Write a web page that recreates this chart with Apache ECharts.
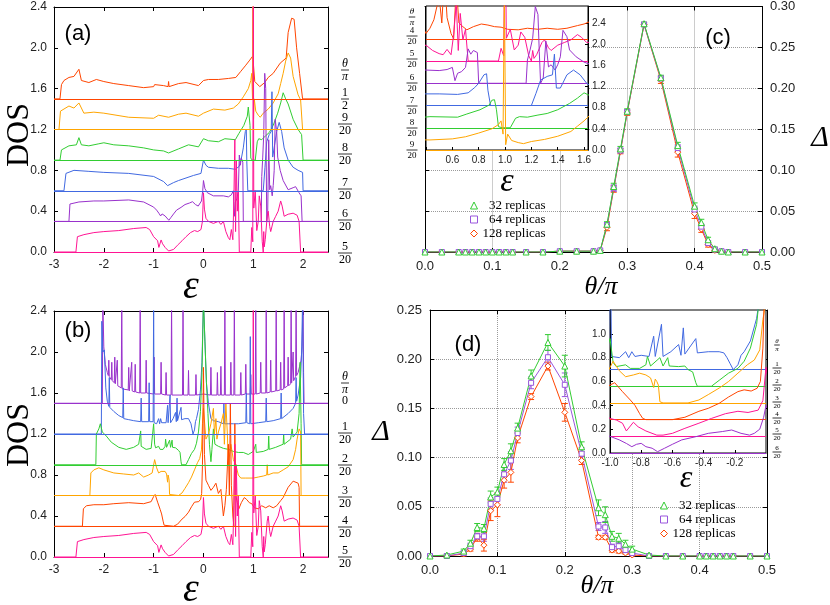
<!DOCTYPE html>
<html>
<head>
<meta charset="utf-8">
<script src="https://cdn.jsdelivr.net/npm/echarts@6/dist/echarts.min.js"></script>
<style>
  html, body { margin: 0; padding: 0; background: #fff; }
  #chart { width: 830px; height: 605px; }
</style>
</head>
<body>
<div id="chart"></div>
<script>
// density of states, raw values (no vertical offset), theta/pi = k/20
const dos00 = [[-3,0],[-2.03,0],[-2.02,1.0],[-2.0,0.55],[-1.97,0.38],[-1.93,0.3],[-1.91,0.27],[-1.9,0.42],[-1.89,0.26],[-1.85,0.23],[-1.84,0.4],[-1.83,0.22],[-1.79,0.2],[-1.78,0.45],[-1.77,0.19],[-1.74,0.18],[-1.73,0.42],[-1.72,0.17],[-1.65,0.15],[-1.64,1.0],[-1.63,0.14],[-1.51,0.13],[-1.5,0.35],[-1.49,0.12],[-1.45,0.12],[-1.44,0.4],[-1.43,0.12],[-1.38,0.11],[-1.37,0.38],[-1.36,0.11],[-1.28,0.1],[-1.27,1.0],[-1.26,0.1],[-1.16,0.1],[-1.15,0.42],[-1.14,0.1],[-1.0,0.09],[-0.99,0.45],[-0.98,0.09],[-0.86,0.09],[-0.85,0.4],[-0.84,0.09],[-0.76,0.08],[-0.75,0.3],[-0.74,0.08],[-0.65,0.08],[-0.64,1.0],[-0.63,0.08],[-0.42,0.08],[-0.41,1.0],[-0.4,0.08],[-0.31,0.08],[-0.3,0.32],[-0.29,0.08],[-0.16,0.08],[-0.15,0.28],[-0.14,0.08],[0.0,0.09],[0.14,0.08],[0.15,0.35],[0.16,0.08],[0.27,0.08],[0.28,0.3],[0.29,0.08],[0.34,0.08],[0.35,0.36],[0.36,0.08],[0.42,0.08],[0.43,1.0],[0.44,0.08],[0.54,0.08],[0.55,0.4],[0.56,0.08],[0.61,0.08],[0.62,1.0],[0.63,0.08],[0.74,0.08],[0.75,0.3],[0.76,0.08],[0.84,0.09],[0.85,0.38],[0.86,0.09],[0.94,0.09],[0.95,0.28],[0.96,0.09],[1.04,0.09],[1.05,1.0],[1.06,0.09],[1.14,0.1],[1.15,0.4],[1.16,0.1],[1.25,0.1],[1.26,1.0],[1.27,0.1],[1.34,0.11],[1.35,0.42],[1.36,0.11],[1.45,0.12],[1.46,1.0],[1.47,0.12],[1.54,0.13],[1.55,0.4],[1.56,0.13],[1.61,0.14],[1.62,1.0],[1.63,0.15],[1.69,0.17],[1.7,0.45],[1.71,0.17],[1.75,0.19],[1.76,1.0],[1.77,0.2],[1.79,0.21],[1.8,0.5],[1.81,0.22],[1.85,0.26],[1.86,1.0],[1.87,0.27],[1.9,0.3],[1.93,0.36],[1.96,0.42],[1.98,0.55],[2.0,1.0],[2.01,0.3],[2.02,0],[2.5,0]];
const dos01 = [[-3,0],[-2.05,0],[-2.04,1.1],[-2.02,0.8],[-1.99,0.82],[-1.96,0.45],[-1.93,0.32],[-1.9,0.27],[-1.89,0.55],[-1.88,0.26],[-1.8,0.22],[-1.7,0.18],[-1.62,0.16],[-1.61,0.45],[-1.6,0.15],[-1.5,0.14],[-1.4,0.13],[-1.26,0.12],[-1.25,0.35],[-1.24,0.12],[-1.1,0.12],[-1.09,0.5],[-1.08,0.12],[-1.01,0.12],[-1.0,1.3],[-0.99,0.11],[-0.94,0.1],[-0.9,0.15],[-0.88,0.1],[-0.86,0.15],[-0.84,0.11],[-0.8,0.12],[-0.75,0.11],[-0.72,0.28],[-0.71,0.11],[-0.67,0.38],[-0.66,0.11],[-0.61,0.15],[-0.56,0.21],[-0.545,0.12],[-0.53,0.35],[-0.52,0.13],[-0.45,0.26],[-0.44,0.14],[-0.37,0.15],[-0.3,0.15],[-0.27,0.14],[-0.25,0.1],[-0.23,0.05],[-0.21,0.0],[-0.18,0.04],[-0.16,0.12],[-0.14,0.15],[-0.1,0.24],[-0.06,0.43],[-0.03,0.7],[0.0,1.3],[0.03,1.3],[0.06,0.5],[0.1,0.3],[0.15,0.15],[0.2,0.13],[0.3,0.12],[0.4,0.1],[0.41,0.3],[0.42,0.1],[0.5,0.1],[0.6,0.1],[0.7,0.1],[0.85,0.11],[0.86,0.4],[0.87,0.11],[0.93,0.1],[0.94,0.95],[0.95,0.1],[1.1,0.11],[1.25,0.12],[1.26,0.35],[1.27,0.12],[1.4,0.13],[1.55,0.15],[1.56,0.4],[1.57,0.15],[1.7,0.2],[1.8,0.25],[1.85,0.3],[1.86,0.55],[1.87,0.32],[1.9,0.38],[1.95,0.55],[1.97,0.8],[1.99,1.3],[2.01,0.2],[2.03,0],[2.5,0]];
const dos02 = [[-3,0],[-2.16,0],[-2.15,0.3],[-2.1,0.35],[-2.07,0.4],[-2.03,0.32],[-1.95,0.28],[-1.85,0.22],[-1.7,0.17],[-1.55,0.15],[-1.4,0.17],[-1.3,0.2],[-1.26,0.33],[-1.25,0.18],[-1.15,0.15],[-1.05,0.16],[-1.0,0.4],[-0.98,0.2],[-0.96,0.165],[-0.9,0.18],[-0.87,0.15],[-0.81,0.15],[-0.77,0.18],[-0.76,0.25],[-0.74,0.17],[-0.68,0.24],[-0.66,0.17],[-0.63,0.24],[-0.62,0.17],[-0.56,0.165],[-0.52,0.17],[-0.5,0.14],[-0.47,0.12],[-0.45,0.03],[-0.44,0],[-0.35,0],[-0.3,0.05],[-0.24,0.11],[-0.18,0.15],[-0.14,0.21],[-0.1,0.32],[-0.06,0.52],[-0.03,0.9],[0.0,1.6],[0.03,1.2],[0.06,0.8],[0.09,0.5],[0.12,0.2],[0.15,0.03],[0.17,0.15],[0.2,0.35],[0.23,0.2],[0.3,0.18],[0.4,0.16],[0.5,0.15],[0.6,0.13],[0.7,0.12],[0.8,0.12],[0.9,0.1],[1.0,0.13],[1.05,0.2],[1.06,0.12],[1.2,0.13],[1.3,0.15],[1.31,0.28],[1.32,0.15],[1.45,0.17],[1.6,0.2],[1.61,0.3],[1.62,0.2],[1.75,0.25],[1.78,0.35],[1.8,0.27],[1.88,0.32],[1.92,0.5],[1.94,1.0],[1.96,0.4],[1.97,0],[2.5,0]];
const dos03 = [[-3,0],[-2.28,0],[-2.26,0.22],[-2.2,0.25],[-2.1,0.27],[-2.0,0.25],[-1.8,0.22],[-1.6,0.21],[-1.4,0.2],[-1.3,0.22],[-1.2,0.18],[-1.1,0.2],[-1.03,0.22],[-0.98,0.35],[-0.94,0.27],[-0.9,0.22],[-0.85,0.235],[-0.81,0.25],[-0.77,0.235],[-0.74,0.21],[-0.72,0.13],[-0.71,0.2],[-0.7,0.18],[-0.69,0.15],[-0.68,0.01],[-0.66,0],[-0.5,0],[-0.43,0.025],[-0.37,0.07],[-0.3,0.125],[-0.24,0.18],[-0.18,0.25],[-0.12,0.32],[-0.075,0.36],[-0.04,0.445],[-0.02,0.7],[0.0,0.85],[0.05,0.55],[0.1,0.6],[0.15,0.7],[0.2,0.85],[0.22,0.6],[0.25,0.75],[0.27,0.55],[0.3,0.62],[0.35,0.7],[0.4,0.8],[0.42,0.5],[0.45,0.9],[0.48,0.6],[0.5,0.3],[0.55,0.5],[0.6,0.35],[0.65,0.3],[0.7,0.2],[0.75,0.17],[0.85,0.17],[1.0,0.17],[1.1,0.18],[1.2,0.19],[1.27,0.2],[1.28,0.3],[1.29,0.2],[1.4,0.22],[1.5,0.22],[1.6,0.25],[1.7,0.28],[1.8,0.35],[1.85,0.45],[1.88,0.55],[1.92,0.65],[1.95,0.62],[1.96,0],[2.5,0]];
const dos04 = [[-3,0],[-2.43,0],[-2.41,0.17],[-2.35,0.2],[-2.2,0.21],[-2.0,0.21],[-1.8,0.22],[-1.5,0.23],[-1.2,0.22],[-1.05,0.24],[-1.0,0.29],[-0.97,0.31],[-0.92,0.235],[-0.87,0.165],[-0.84,0.12],[-0.81,0.05],[-0.79,0.01],[-0.77,0],[-0.6,0],[-0.52,0.02],[-0.43,0.07],[-0.37,0.095],[-0.3,0.137],[-0.24,0.19],[-0.18,0.235],[-0.14,0.25],[-0.095,0.24],[-0.057,0.263],[-0.036,0.32],[-0.02,0.6],[0.0,1.55],[0.02,0.7],[0.05,0.45],[0.1,0.4],[0.15,0.35],[0.2,0.38],[0.25,0.42],[0.3,0.32],[0.35,0.36],[0.4,0.1],[0.43,0.2],[0.46,0.36],[0.5,0.8],[0.52,0.3],[0.54,1.2],[0.56,0.4],[0.59,0.1],[0.61,0.0],[0.63,1.0],[0.65,0.3],[0.68,0.23],[0.71,0.17],[0.76,0.23],[0.82,0.28],[0.87,0.26],[0.92,0.23],[0.97,0.22],[1.02,0.18],[1.1,0.17],[1.17,0.2],[1.25,0.18],[1.32,0.2],[1.4,0.18],[1.47,0.2],[1.55,0.25],[1.6,0.28],[1.7,0.38],[1.8,0.44],[1.9,0.42],[1.92,0.38],[1.93,0],[2.5,0]];
const dos05 = [[-3,0],[-2.56,0],[-2.53,0.15],[-2.4,0.17],[-2.2,0.19],[-2.0,0.2],[-1.7,0.21],[-1.4,0.23],[-1.15,0.24],[-1.08,0.22],[-1.0,0.15],[-0.96,0.137],[-0.92,0.11],[-0.895,0.045],[-0.885,0.04],[-0.85,0.118],[-0.82,0.08],[-0.77,0.045],[-0.7,0.01],[-0.66,0.01],[-0.6,0.025],[-0.52,0.067],[-0.43,0.11],[-0.35,0.15],[-0.26,0.19],[-0.18,0.21],[-0.115,0.2],[-0.05,0.22],[-0.02,0.3],[0.0,0.58],[0.02,0.42],[0.05,0.33],[0.1,0.3],[0.2,0.28],[0.3,0.3],[0.35,0.27],[0.4,0.3],[0.45,0.2],[0.5,0.14],[0.53,0.12],[0.56,0.22],[0.59,0.12],[0.61,0.5],[0.63,1.1],[0.645,0.2],[0.66,0.9],[0.68,0.4],[0.7,0.6],[0.72,0.0],[0.95,0.0],[0.97,0.24],[0.99,0.1],[1.0,3.0],[1.01,0.43],[1.04,0.6],[1.07,0.21],[1.1,0.3],[1.12,0.55],[1.15,0.45],[1.18,0.1],[1.2,0.0],[1.21,0.2],[1.22,0.05],[1.24,0.12],[1.28,0.35],[1.3,0.4],[1.33,0.25],[1.35,0.2],[1.4,0.3],[1.45,0.35],[1.5,0.4],[1.55,0.5],[1.58,0.45],[1.62,0.35],[1.7,0.37],[1.8,0.38],[1.88,0.36],[1.92,0.3],[1.95,0],[2.5,0]];
const dos06 = [[-3,0],[-2.7,0],[-2.68,0.17],[-2.5,0.19],[-2.2,0.2],[-2.0,0.2],[-1.5,0.21],[-1.2,0.19],[-1.0,0.14],[-0.94,0.11],[-0.895,0.08],[-0.86,0.053],[-0.83,0.073],[-0.8,0.081],[-0.77,0.053],[-0.73,0.04],[-0.695,0.011],[-0.684,0.005],[-0.65,0.04],[-0.6,0.073],[-0.54,0.11],[-0.45,0.137],[-0.37,0.165],[-0.28,0.18],[-0.22,0.193],[-0.16,0.165],[-0.105,0.15],[-0.075,0.165],[-0.04,0.2],[-0.015,0.3],[0.0,0.4],[0.03,0.32],[0.08,0.28],[0.2,0.25],[0.4,0.25],[0.5,0.24],[0.56,0.26],[0.6,0.3],[0.62,0.05],[0.64,0.19],[0.67,0.22],[0.7,0.3],[0.72,0.65],[0.74,0.55],[0.76,0.62],[0.79,0.58],[0.8,0.0],[1.16,0.0],[1.17,0.44],[1.19,0.63],[1.21,0.85],[1.23,1.45],[1.25,1.3],[1.26,0.6],[1.27,0.0],[1.29,0.1],[1.31,0.8],[1.33,0.31],[1.35,0.35],[1.38,0.25],[1.4,0.35],[1.42,0.5],[1.44,1.0],[1.47,0.88],[1.49,0.63],[1.54,0.5],[1.6,0.4],[1.7,0.31],[1.8,0.33],[1.85,0.34],[1.92,0.28],[1.96,0.25],[1.98,0],[2.5,0]];
const dos07 = [[-3,0],[-2.8,0],[-2.76,0.17],[-2.6,0.2],[-2.3,0.19],[-2.0,0.18],[-1.5,0.17],[-1.0,0.14],[-0.8,0.09],[-0.72,0.05],[-0.7,0.04],[-0.6,0.08],[-0.5,0.1],[-0.2,0.15],[-0.05,0.17],[0.0,0.3],[0.05,0.25],[0.1,0.23],[0.3,0.22],[0.5,0.22],[0.64,0.21],[0.72,0.24],[0.77,0.34],[0.8,0.42],[0.84,0.58],[0.86,0.6],[0.87,0.29],[0.89,0.0],[1.2,0.0],[1.235,0.23],[1.27,0.48],[1.32,0.55],[1.36,0.58],[1.375,0.97],[1.39,0.33],[1.42,0.33],[1.47,0.58],[1.52,0.67],[1.57,0.58],[1.62,0.42],[1.7,0.3],[1.8,0.23],[1.9,0.2],[1.99,0.18],[2.0,0],[2.5,0]];
const dos08 = [[-3,0],[-2.88,0],[-2.85,0.1],[-2.7,0.14],[-2.55,0.15],[-2.5,0.22],[-2.45,0.15],[-2.3,0.14],[-2.1,0.16],[-2.0,0.17],[-1.8,0.15],[-1.5,0.14],[-1.2,0.12],[-1.0,0.1],[-0.8,0.09],[-0.7,0.07],[-0.5,0.11],[-0.3,0.15],[-0.1,0.13],[0.0,0.21],[0.1,0.19],[0.3,0.18],[0.43,0.21],[0.64,0.2],[0.71,0.26],[0.81,0.34],[0.88,0.43],[0.9,0.52],[0.92,0.53],[0.935,0.34],[0.95,0.02],[0.98,0],[1.04,0],[1.08,0.18],[1.11,0.21],[1.17,0.2],[1.25,0.24],[1.32,0.27],[1.4,0.34],[1.49,0.46],[1.55,0.56],[1.6,0.66],[1.65,0.6],[1.7,0.55],[1.8,0.4],[1.9,0.3],[1.97,0.25],[2.0,0],[2.5,0]];
const dos09 = [[-3,0],[-2.9,0],[-2.87,0.18],[-2.7,0.23],[-2.6,0.21],[-2.5,0.26],[-2.4,0.16],[-2.2,0.17],[-2.0,0.16],[-1.5,0.12],[-1.0,0.11],[-0.9,0.14],[-0.7,0.12],[-0.5,0.15],[-0.35,0.16],[-0.1,0.13],[0.0,0.16],[0.2,0.2],[0.43,0.19],[0.6,0.21],[0.7,0.25],[0.8,0.32],[0.9,0.4],[0.95,0.48],[0.97,0.55],[0.985,0.3],[0.995,3.0],[1.005,0.1],[1.02,0.3],[1.05,0.18],[1.1,0.14],[1.14,0.12],[1.2,0.16],[1.3,0.2],[1.4,0.26],[1.5,0.35],[1.55,0.45],[1.6,0.55],[1.65,0.67],[1.7,0.75],[1.75,0.7],[1.8,0.52],[1.9,0.34],[1.95,0.29],[1.99,0],[2.5,0]];
const dos10 = [[-3,0],[-2.88,0],[-2.85,0.14],[-2.8,0.18],[-2.7,0.21],[-2.6,0.22],[-2.5,0.29],[-2.45,0.18],[-2.3,0.16],[-2.15,0.19],[-2.0,0.17],[-1.8,0.15],[-1.5,0.13],[-1.2,0.11],[-1.0,0.12],[-0.98,0.14],[-0.8,0.13],[-0.71,0.12],[-0.7,0.17],[-0.69,0.12],[-0.5,0.15],[-0.35,0.16],[-0.1,0.13],[0.0,0.18],[0.1,0.19],[0.3,0.19],[0.5,0.2],[0.65,0.21],[0.75,0.27],[0.85,0.33],[0.93,0.38],[0.99,0.42],[1.03,0.17],[1.13,0.12],[1.23,0.16],[1.3,0.21],[1.4,0.25],[1.54,0.35],[1.66,0.4],[1.7,0.65],[1.77,0.79],[1.82,0.78],[1.87,0.5],[1.93,0.25],[1.99,0],[2.5,0]];
const dosByTheta = [dos00, dos01, dos02, dos03, dos04, dos05, dos06, dos07, dos08, dos09, dos10];
const dosColors = ['#9932cc', '#4169e1', '#32cd32', '#ffa500', '#ff4500', '#ff1493',
                   '#9932cc', '#4169e1', '#32cd32', '#ffa500', '#ff4500'];

// which theta (k/20) goes in which panel, and the vertical offsets used
const thetasA = [10, 9, 8, 7, 6, 5];
const offsetsA = [1.5, 1.2, 0.9, 0.6, 0.3, 0];
const thetasB = [0, 1, 2, 3, 4, 5];
const offsetsB = [1.5, 1.2, 0.9, 0.6, 0.3, 0];
const thetasInsetC = [4, 5, 6, 7, 8, 9];
const offsetsInsetC = [2.1, 1.68, 1.26, 0.84, 0.42, 0];
const thetasInsetD = [1, 2, 3, 4, 5, 6];
const offsetsInsetD = [0.7, 0.56, 0.42, 0.28, 0.14, 0];

// gap parameter vs theta/pi
const xTheta = [0, 0.025, 0.05, 0.06, 0.07, 0.08, 0.09, 0.1, 0.11, 0.12, 0.13, 0.15, 0.175, 0.2, 0.225, 0.25, 0.26, 0.27, 0.28, 0.29, 0.3, 0.325, 0.35, 0.375, 0.4, 0.41, 0.42, 0.43, 0.44, 0.45, 0.475, 0.5];
const deltaC32  = [0,0,0,0,0,0,0,0,0,0,0,0,0,0.001,0.001,0.001,0.002,0.034,0.080,0.126,0.172,0.279,0.213,0.130,0.056,0.036,0.015,0.004,0.001,0,0,0];
const deltaC64  = [0,0,0,0,0,0,0,0,0,0,0,0,0,0.001,0.001,0.001,0.002,0.033,0.078,0.124,0.171,0.278,0.212,0.127,0.052,0.031,0.011,0.003,0.001,0,0,0];
const deltaC128 = [0,0,0,0,0,0,0,0,0,0,0,0,0,0.001,0.001,0.001,0.002,0.030,0.077,0.123,0.170,0.278,0.210,0.122,0.047,0.028,0.009,0.002,0.001,0,0,0];
const errC32  = [0,0,0,0,0,0,0,0,0,0,0,0,0,0,0,0,0,0.003,0.004,0.003,0.003,0.002,0.003,0.004,0.004,0.004,0.003,0.002,0.001,0,0,0];
const errC64  = [0,0,0,0,0,0,0,0,0,0,0,0,0,0,0,0,0,0.003,0.004,0.003,0.003,0.002,0.003,0.004,0.004,0.003,0.003,0.002,0.001,0,0,0];
const errC128 = [0,0,0,0,0,0,0,0,0,0,0,0,0,0,0,0,0,0.004,0.004,0.003,0.003,0.002,0.004,0.006,0.006,0.004,0.003,0.002,0.001,0,0,0];
const deltaD32  = [0,0.001,0.005,0.013,0.029,0.028,0.060,0.065,0.093,0.107,0.130,0.183,0.217,0.193,0.111,0.049,0.042,0.020,0.018,0.012,0.007,0.001,0,0,0,0,0,0,0,0,0,0];
const deltaD64  = [0,0,0.003,0.010,0.020,0.020,0.053,0.058,0.083,0.097,0.125,0.176,0.202,0.174,0.104,0.030,0.029,0.009,0.010,0.006,0.003,0,0,0,0,0,0,0,0,0,0,0];
const deltaD128 = [0,0,0.002,0.007,0.019,0.011,0.046,0.052,0.077,0.085,0.120,0.162,0.193,0.146,0.097,0.019,0.019,0.006,0.005,0.003,0.001,0,0,0,0,0,0,0,0,0,0,0];
const errD32  = [0,0.001,0.002,0.003,0.004,0.004,0.006,0.005,0.006,0.007,0.005,0.006,0.008,0.011,0.005,0.008,0.008,0.005,0.005,0.004,0.003,0.001,0,0,0,0,0,0,0,0,0,0];
const errD64  = [0,0,0.002,0.003,0.003,0.005,0.006,0.006,0.008,0.009,0.006,0.006,0.007,0.012,0.006,0.004,0.006,0.003,0.004,0.003,0.002,0,0,0,0,0,0,0,0,0,0,0];
const errD128 = [0,0,0.002,0.002,0.004,0.006,0.010,0.012,0.008,0.010,0.005,0.003,0.004,0.009,0.004,0.002,0.002,0.002,0.002,0.001,0.001,0,0,0,0,0,0,0,0,0,0,0];
const replicaNames = ['  32 replicas', '  64 replicas', '128 replicas'];
const replicaColors = ['#33cc33', '#9955dd', '#ff4500'];
const replicaSymbols = ['triangle', 'rect', 'diamond'];

// right-hand theta/pi labels
const fracA = [['θ','π'],['1','2'],['9','20'],['8','20'],['7','20'],['6','20'],['5','20']];
const fracB = [['θ','π'],['0'],['1','20'],['2','20'],['3','20'],['4','20'],['5','20']];
const fracInsetC = [['θ','π'],['4','20'],['5','20'],['6','20'],['7','20'],['8','20'],['9','20']];
const fracInsetD = [['θ','π'],['1','20'],['2','20'],['3','20'],['4','20'],['5','20'],['6','20']];

const SANS = '"Liberation Sans", Arial, sans-serif';
const SERIF = '"Liberation Serif", "Times New Roman", serif';

function axis(o) {
  return Object.assign({
    type: 'value',
    axisLine: { show: true, onZero: false, lineStyle: { color: '#000', width: 1 } },
    axisTick: { show: true, inside: true, length: 4, lineStyle: { color: '#000' } },
    splitLine: { show: false },
    axisLabel: { color: '#222', fontFamily: SANS, fontSize: 12, margin: 7 }
  }, o);
}
function mirror(o) {
  return axis(Object.assign({ axisLabel: { show: false } }, o));
}

function dosSeries(thetas, offsets, xi, yi, z) {
  return thetas.map((t, i) => ({
    type: 'line', xAxisIndex: xi, yAxisIndex: yi, z: z, silent: true,
    data: dosByTheta[t].map(p => [p[0], p[1] + offsets[i]]),
    showSymbol: false, animation: false,
    lineStyle: { color: dosColors[t], width: 1 },
    itemStyle: { color: dosColors[t] },
    markLine: {
      silent: true, symbol: 'none', animation: false, label: { show: false },
      lineStyle: { color: dosColors[t], width: 1.2, type: 'solid' },
      data: [{ yAxis: offsets[i] }]
    }
  }));
}

function errorBars(color) {
  return function (params, api) {
    const e = api.value(2);
    if (!e) return null;
    const x = api.value(0), y = api.value(1);
    const lo = api.coord([x, y - e]), hi = api.coord([x, y + e]);
    const st = { stroke: color, lineWidth: 1 };
    return { type: 'group', children: [
      { type: 'line', shape: { x1: lo[0], y1: lo[1], x2: hi[0], y2: hi[1] }, style: st },
      { type: 'line', shape: { x1: lo[0] - 3, y1: lo[1], x2: lo[0] + 3, y2: lo[1] }, style: st },
      { type: 'line', shape: { x1: hi[0] - 3, y1: hi[1], x2: hi[0] + 3, y2: hi[1] }, style: st }
    ] };
  };
}

function deltaSeries(values, errs, xi, yi) {
  const out = [];
  [2, 1, 0].forEach(k => {
    out.push({
      type: 'custom', xAxisIndex: xi, yAxisIndex: yi, silent: true, z: 2,
      renderItem: errorBars(replicaColors[k]),
      encode: { x: 0, y: 1 },
      data: xTheta.map((x, i) => [x, values[k][i], errs[k][i]])
    });
    out.push({
      type: 'line', name: replicaNames[k], xAxisIndex: xi, yAxisIndex: yi, z: 3,
      data: xTheta.map((x, i) => [x, values[k][i]]),
      symbol: replicaSymbols[k], symbolSize: k === 1 ? 5 : 6, showSymbol: true,
      lineStyle: { color: replicaColors[k], width: 1 },
      itemStyle: { color: '#fff', borderColor: replicaColors[k], borderWidth: 1 },
      animation: false
    });
  });
  return out;
}

function frac(x, y, parts, size) {
  const font = (italic) => (italic ? 'italic ' : '') + size + 'px ' + SERIF;
  if (parts.length === 1) {
    return [{ type: 'text', x: x, y: y, style: { text: parts[0], font: font(false), fill: '#000',
      textAlign: 'center', textVerticalAlign: 'middle' } }];
  }
  const it = parts[0] === 'θ';
  const w = size * 0.5 * Math.max(parts[0].length, parts[1].length) + 2;
  return [
    { type: 'text', x: x, y: y - 0.5, style: { text: parts[0], font: font(it), fill: '#000',
      textAlign: 'center', textVerticalAlign: 'bottom' } },
    { type: 'line', shape: { x1: x - w / 2, y1: y, x2: x + w / 2, y2: y }, style: { stroke: '#000', lineWidth: 0.8 } },
    { type: 'text', x: x, y: y + 1, style: { text: parts[1], font: font(it), fill: '#000',
      textAlign: 'center', textVerticalAlign: 'top' } }
  ];
}

function label(text, x, y, size, opts) {
  return Object.assign({ type: 'text', x: x, y: y, z: 10, style: Object.assign({ text: text, fill: '#000',
    font: size + 'px ' + SERIF, textAlign: 'center', textVerticalAlign: 'middle' }, (opts && opts.style) || {}) },
    opts && opts.rotation ? { rotation: opts.rotation } : {});
}

const chart = echarts.init(document.getElementById('chart'), null, { renderer: 'canvas' });

const fix = n => v => v.toFixed(n);
const grids = [
  { left: 54, top: 7, width: 274, height: 245 },           // (a)
  { left: 54, top: 311, width: 274, height: 246 },         // (b)
  { left: 425, top: 6, width: 337, height: 246 },          // (c)
  { left: 426, top: 6, width: 162, height: 144, show: true, backgroundColor: '#fff', borderColor: '#000', borderWidth: 1, z: 3 }, // (c) inset
  { left: 430, top: 310, width: 337, height: 246 },        // (d)
  { left: 610, top: 310, width: 156, height: 143, show: true, backgroundColor: '#fff', borderColor: '#000', borderWidth: 1, z: 3 }  // (d) inset
];

const dotted = { show: true, lineStyle: { type: 'dotted', color: '#9a9a9a', width: 1 } };
const xAxes = [
  axis({ gridIndex: 0, min: -3, max: 2.5, interval: 1, axisLabel: { color: '#222', fontFamily: SANS, fontSize: 12, margin: 7, showMaxLabel: false } }),
  axis({ gridIndex: 1, min: -3, max: 2.5, interval: 1, axisLabel: { color: '#222', fontFamily: SANS, fontSize: 12, margin: 7, showMaxLabel: false } }),
  axis({ gridIndex: 2, min: 0, max: 0.5, interval: 0.1, splitLine: dotted, axisLabel: { color: '#222', fontFamily: SANS, fontSize: 13, margin: 8, formatter: fix(1) } }),
  axis({ gridIndex: 3, min: 0.4, max: 1.63, interval: 0.2, z: 4, axisTick: { show: true, inside: true, length: 3 },
    axisLabel: { color: '#222', fontFamily: SANS, fontSize: 10, margin: 5, showMaxLabel: false, formatter: v => v < 0.5 ? '' : v.toFixed(1) } }),
  axis({ gridIndex: 4, min: 0, max: 0.5, interval: 0.1, splitLine: dotted, axisLabel: { color: '#222', fontFamily: SANS, fontSize: 13, margin: 8, formatter: fix(1) } }),
  axis({ gridIndex: 5, min: -1, max: 0, interval: 0.2, z: 4, axisTick: { show: true, inside: true, length: 3 },
    axisLabel: { color: '#222', fontFamily: SANS, fontSize: 10, margin: 5, showMaxLabel: false, formatter: fix(1) } }),
  mirror({ gridIndex: 0, position: 'top', min: -3, max: 2.5, interval: 1 }),
  mirror({ gridIndex: 1, position: 'top', min: -3, max: 2.5, interval: 1 }),
  mirror({ gridIndex: 2, position: 'top', min: 0, max: 0.5, interval: 0.1 }),
  mirror({ gridIndex: 4, position: 'top', min: 0, max: 0.5, interval: 0.1 })
];
const yAxes = [
  axis({ gridIndex: 0, min: 0, max: 2.4, interval: 0.4, axisLabel: { color: '#222', fontFamily: SANS, fontSize: 12, margin: 7, formatter: fix(1) } }),
  axis({ gridIndex: 1, min: 0, max: 2.4, interval: 0.4, axisLabel: { color: '#222', fontFamily: SANS, fontSize: 12, margin: 7, formatter: fix(1) } }),
  axis({ gridIndex: 2, position: 'right', min: 0, max: 0.3, interval: 0.05, splitLine: dotted, axisLabel: { color: '#222', fontFamily: SANS, fontSize: 13, margin: 8, formatter: fix(2) } }),
  axis({ gridIndex: 3, position: 'right', min: 0, max: 2.72, interval: 0.4, z: 4, axisTick: { show: true, inside: true, length: 3 },
    axisLabel: { color: '#222', fontFamily: SANS, fontSize: 10, margin: 4, showMaxLabel: false, formatter: fix(1) } }),
  axis({ gridIndex: 4, min: 0, max: 0.25, interval: 0.05, splitLine: dotted, axisLabel: { color: '#222', fontFamily: SANS, fontSize: 13, margin: 8, formatter: fix(2) } }),
  axis({ gridIndex: 5, min: 0, max: 1.2, interval: 0.2, z: 4, axisTick: { show: true, inside: true, length: 3 },
    axisLabel: { color: '#222', fontFamily: SANS, fontSize: 10, margin: 4, showMaxLabel: false, formatter: fix(1) } }),
  mirror({ gridIndex: 0, position: 'right', min: 0, max: 2.4, interval: 0.4 }),
  mirror({ gridIndex: 1, position: 'right', min: 0, max: 2.4, interval: 0.4 }),
  mirror({ gridIndex: 2, position: 'left', min: 0, max: 0.3, interval: 0.05 }),
  mirror({ gridIndex: 4, position: 'right', min: 0, max: 0.25, interval: 0.05 })
];

const series = [].concat(
  dosSeries(thetasA, offsetsA, 0, 0, 2),
  dosSeries(thetasB, offsetsB, 1, 1, 2),
  dosSeries(thetasInsetC, offsetsInsetC, 3, 3, 5),
  dosSeries(thetasInsetD, offsetsInsetD, 5, 5, 5),
  deltaSeries([deltaC32, deltaC64, deltaC128], [errC32, errC64, errC128], 2, 2),
  deltaSeries([deltaD32, deltaD64, deltaD128], [errD32, errD64, errD128], 4, 4)
);

function legendAt(left, top) {
  return {
    left: left, top: top, orient: 'vertical', itemGap: 1, itemWidth: 7, itemHeight: 7, padding: 0,
    selectedMode: false, z: 6,
    textStyle: { fontFamily: SERIF, fontSize: 13, color: '#000', lineHeight: 13 },
    data: replicaNames.map((n, k) => ({ name: n, icon: replicaSymbols[k],
      itemStyle: { color: '#fff', borderColor: replicaColors[k], borderWidth: 1 } }))
  };
}

const graphics = [];
const fracRowsA = [70, 99, 124, 154, 189, 220, 253];
const fracRowsB = [383, 401, 433, 465, 497, 527, 557];
const fracRowsC = [17, 36, 59, 83, 106, 128, 150];
const fracRowsD = [345, 368, 385, 402, 418, 434, 452];
fracA.forEach((f, i) => graphics.push(...frac(345, fracRowsA[i], f, 12)));
fracB.forEach((f, i) => graphics.push(...frac(345, fracRowsB[i], f, 12)));
fracInsetC.forEach((f, i) => graphics.push(...frac(412, fracRowsC[i], f, 9)));
fracInsetD.forEach((f, i) => graphics.push(...frac(777, fracRowsD[i], f, 7)));
graphics.push(
  label('DOS', 20, 135, 32, { rotation: Math.PI / 2 }),
  label('DOS', 20, 435, 32, { rotation: Math.PI / 2 }),
  label('ε', 191, 287, 40, { style: { font: 'italic 40px ' + SERIF } }),
  label('ε', 191, 590, 40, { style: { font: 'italic 40px ' + SERIF } }),
  label('ε', 507, 182, 34, { style: { font: 'italic 34px ' + SERIF } }),
  label('ε', 686, 479, 32, { style: { font: 'italic 32px ' + SERIF } }),
  label('θ/π', 601, 287, 26, { style: { font: 'italic 26px ' + SERIF } }),
  label('θ/π', 597, 586, 26, { style: { font: 'italic 26px ' + SERIF } }),
  label('Δ', 820, 138, 30, { style: { font: 'italic 30px ' + SERIF } }),
  label('Δ', 381, 432, 30, { style: { font: 'italic 30px ' + SERIF } }),
  label('(a)', 78, 34, 22, { style: { font: '22px ' + SANS } }),
  label('(b)', 78, 331, 22, { style: { font: '22px ' + SANS } }),
  label('(c)', 718, 38, 22, { style: { font: '22px ' + SANS } }),
  label('(d)', 468, 345, 22, { style: { font: '22px ' + SANS } })
);

chart.setOption({
  animation: false,
  backgroundColor: '#fff',
  grid: grids,
  xAxis: xAxes,
  yAxis: yAxes,
  legend: [legendAt(470, 199), legendAt(660, 499)],
  series: series,
  graphic: graphics
});
</script>
</body>
</html>
